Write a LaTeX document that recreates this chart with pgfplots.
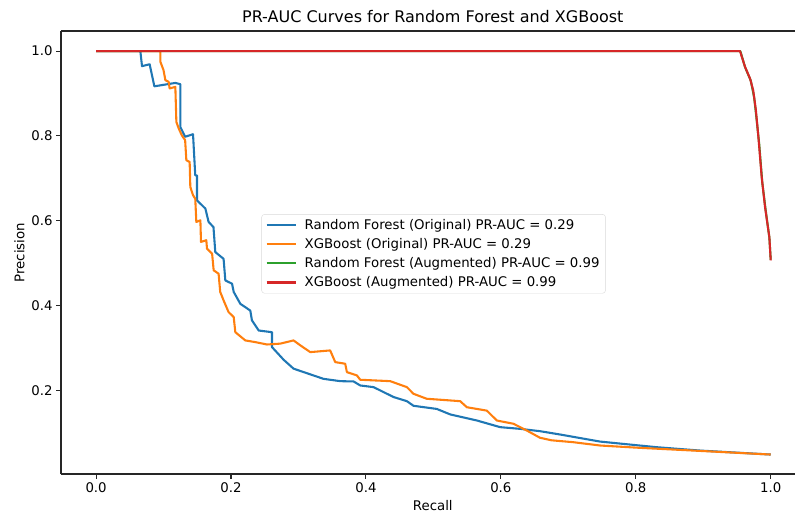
\documentclass[border=0pt]{standalone}
\usepackage{fontspec}
\setmainfont{DejaVu Sans}
\usepackage{pgfplots}
\pgfplotsset{compat=1.18}
\definecolor{tabblue}{HTML}{1F77B4}
\definecolor{taborange}{HTML}{FF7F0E}
\definecolor{tabgreen}{HTML}{2CA02C}
\definecolor{tabred}{HTML}{D62728}
\pgfplotstableread{
x y
0 1
0.0656 1
0.0681 0.9646
0.0794 0.969
0.0864 0.917
0.1175 0.925
0.1249 0.922
0.1249 0.821
0.132 0.798
0.1437 0.804
0.147 0.707
0.1496 0.707
0.1496 0.648
0.162 0.6286
0.1668 0.597
0.174 0.585
0.1767 0.526
0.189 0.510
0.1916 0.459
0.2015 0.4515
0.204 0.432
0.2138 0.404
0.2286 0.388
0.231 0.365
0.241 0.341
0.2607 0.337
0.2607 0.302
0.278 0.272
0.2927 0.251
0.337 0.227
0.362 0.2215
0.3817 0.2208
0.3916 0.2113
0.4113 0.2074
0.441 0.184
0.4607 0.1743
0.4705 0.1634
0.505 0.156
0.525 0.143
0.5645 0.1287
0.599 0.113
0.6286 0.109
0.658 0.1035
0.688 0.0956
0.747 0.079
0.831 0.0657
0.8953 0.0578
1.0 0.0484
}\rforig
\pgfplotstableread{
x y
0 1
0.0953 1
0.0953 0.975
0.1 0.955
0.1027 0.9315
0.1076 0.9276
0.109 0.912
0.1175 0.9157
0.119 0.833
0.1225 0.8175
0.127 0.8017
0.132 0.79
0.1338 0.7426
0.1387 0.7386
0.1397 0.6796
0.1437 0.66
0.147 0.652
0.1486 0.597
0.1546 0.601
0.1555 0.55
0.1634 0.554
0.1644 0.534
0.172 0.522
0.1743 0.483
0.1816 0.475
0.184 0.432
0.189 0.412
0.1964 0.3844
0.204 0.3726
0.2064 0.337
0.2212 0.3176
0.236 0.3136
0.2533 0.308
0.273 0.31
0.2927 0.3176
0.3027 0.306
0.3175 0.29
0.347 0.294
0.3545 0.2664
0.3693 0.2626
0.3718 0.2428
0.3866 0.235
0.3916 0.2248
0.436 0.2215
0.4607 0.2074
0.4705 0.1917
0.49 0.18
0.5397 0.1743
0.5496 0.160
0.5792 0.152
0.594 0.1287
0.6187 0.121
0.6385 0.105
0.658 0.088
0.675 0.082
0.7076 0.0775
0.747 0.0697
0.806 0.0642
0.885 0.0578
1.0 0.0484
}\xgborig
\pgfplotstableread{
x y
0 1
0.955 1
0.962 0.962
0.9705 0.93
0.9755 0.89
0.979 0.84
0.983 0.78
0.9875 0.69
0.9925 0.625
0.998 0.56
1.0 0.508
}\rfaug
\pgfplotstableread{
x y
0 1
0.9545 1
0.9619 0.963
0.9693 0.9355
0.974 0.908
0.978 0.861
0.9817 0.798
0.9866 0.703
0.9916 0.632
0.998 0.561
1.0 0.5065
}\xgbaug
\begin{document}
\begin{tikzpicture}
\path[use as bounding box] (-61pt,-40pt) rectangle (734pt,474pt);
\begin{axis}[
  at={(0pt,0pt)}, anchor=south west,
  width=734pt, height=443pt, scale only axis,
  xmin=-0.052, xmax=1.036, ymin=0.0025, ymax=1.0475,
  axis x line*=box, axis y line*=left,
  axis line style={-, line width=1.1pt, black!85},
  xtick={0,0.2,0.4,0.6,0.8,1.0},
  ytick={0.2,0.4,0.6,0.8,1.0},
  xtick pos=left, ytick pos=left,
  tick align=outside,
  major tick length=4.9pt,
  every tick/.style={black!85, line width=1.1pt},
  /pgf/number format/assume math mode=true,
  /pgf/number format/.cd, fixed, fixed zerofill, precision=1, /pgfplots/.cd,
  tick label style={font=\fontsize{13.3}{15.5}\selectfont},
  title={PR-AUC Curves for Random Forest and XGBoost},
  title style={font=\fontsize{16}{19}\selectfont, xshift=4.8pt, yshift=-1pt},
  xlabel={Recall}, ylabel={Precision},
  label style={font=\fontsize{13.3}{15.5}\selectfont},
  xlabel style={xshift=4.8pt, yshift=-1pt},
  legend style={at={(0.5076,0.497)}, anchor=center, draw=black!15, rounded corners=3pt,
    font=\fontsize{13.3}{15.5}\selectfont, fill=white, fill opacity=0.8, text opacity=1,
    inner xsep=4pt, inner ysep=3pt, row sep=3.5pt},
  legend cell align=left,
  legend image code/.code={\draw[#1, line width=2.08pt] (0pt,0pt) -- (29pt,0pt);},
]
\addplot[tabblue, line width=2.08pt, line join=round] table {\rforig};
\addlegendentry{\hspace*{6pt}Random Forest (Original) PR-AUC = 0.29}
\addplot[taborange, line width=2.08pt, line join=round] table {\xgborig};
\addlegendentry{\hspace*{6pt}XGBoost (Original) PR-AUC = 0.29}
\addplot[tabgreen, line width=2.08pt, line join=round] table {\rfaug};
\addlegendentry{\hspace*{6pt}Random Forest (Augmented) PR-AUC = 0.99}
\addplot[tabred, line width=2.08pt, line join=round] table {\xgbaug};
\addlegendentry{\hspace*{6pt}XGBoost (Augmented) PR-AUC = 0.99}
\end{axis}
\end{tikzpicture}
\end{document}
